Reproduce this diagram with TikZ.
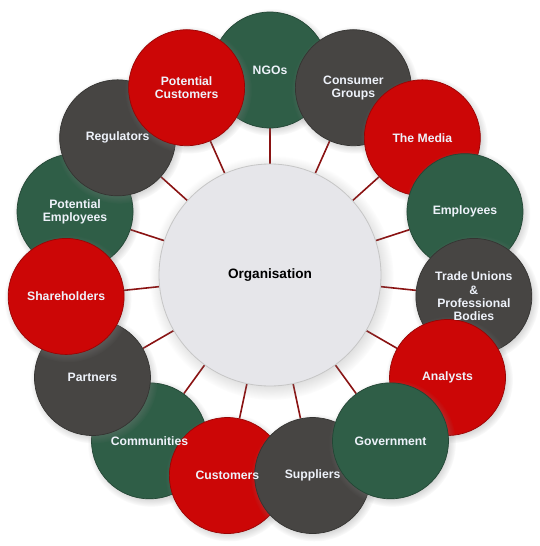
\documentclass[tikz,border=0pt]{standalone}
\usepackage{fontspec}
\setmainfont{Liberation Sans}
\usetikzlibrary{shadows}
\pgfdeclarelayer{bg}
\pgfsetlayers{bg,main}

\definecolor{stkred}{HTML}{CC0606}
\definecolor{stkgreen}{HTML}{2F5E47}
\definecolor{stkgrey}{HTML}{474543}
\definecolor{orgfill}{HTML}{E6E6EA}
\definecolor{spokecol}{HTML}{8A1212}
\definecolor{labelwhite}{HTML}{EEF2FA}

\tikzset{
  stake/.style={circle, minimum size=116pt, inner sep=0pt,
    fill=#1, draw=#1!75!black, line width=0.7pt,
    circular drop shadow={shadow xshift=1.5pt, shadow yshift=-2pt, opacity=0.35}},
  stakelabel/.style={align=center, inner sep=0pt,
    font=\bfseries\fontsize{12.2}{13.4}\selectfont, text=labelwhite},
  org/.style={circle, minimum size=222pt, inner sep=0pt,
    font=\bfseries\fontsize{13.6}{15}\selectfont, text=black,
    fill=orgfill, draw=gray!45, line width=0.8pt,
    circular drop shadow={shadow xshift=1.5pt, shadow yshift=-2.5pt, opacity=0.3}},
  spoke/.style={draw=spokecol, line width=1.6pt},
}

\begin{document}
\begin{tikzpicture}[x=1pt,y=-1pt]
\useasboundingbox (0,0) rectangle (540,546);
\begin{pgfonlayer}{bg}
  \fill[white] (0,0) rectangle (540,546);
\end{pgfonlayer}

% hub
\node[org] (org) at (270,275) {Organisation};

% stakeholder discs on a ring of radius 205pt, every 24 degrees
\node[stake=stkgreen] (ngo)   at ([shift={(90:205pt)}]org.center)   {};
\node[stake=stkgrey]  (cg)    at ([shift={(66:205pt)}]org.center)   {};
\node[stake=stkred]   (media) at ([shift={(42:205pt)}]org.center)   {};
\node[stake=stkgreen] (emp)   at ([shift={(18:205pt)}]org.center)   {};
\node[stake=stkgrey]  (tu)    at ([shift={(-6:205pt)}]org.center)   {};
\node[stake=stkred]   (ana)   at ([shift={(-30:205pt)}]org.center)  {};
\node[stake=stkgreen] (comm)  at ([shift={(-126:205pt)}]org.center) {};
\node[stake=stkred]   (cust)  at ([shift={(-102:205pt)}]org.center) {};
\node[stake=stkgrey]  (sup)   at ([shift={(-78:205pt)}]org.center)  {};
\node[stake=stkgreen] (gov)   at ([shift={(-54:205pt)}]org.center)  {};
\node[stake=stkgrey]  (part)  at ([shift={(-150:205pt)}]org.center) {};
\node[stake=stkgreen] (pemp)  at ([shift={(162:205pt)}]org.center)  {};
\node[stake=stkred]   (share) at ([shift={(-174:205pt)}]org.center) {};
\node[stake=stkgrey]  (reg)   at ([shift={(138:205pt)}]org.center)  {};
\node[stake=stkred]   (pcust) at ([shift={(114:205pt)}]org.center)  {};

% labels sit above every disc
\node[stakelabel] (ngo-t)   at (ngo)   {NGOs};
\node[stakelabel] (cg-t)    at (cg)    {Consumer\\Groups};
\node[stakelabel] (media-t) at (media) {The Media};
\node[stakelabel] (emp-t)   at (emp)   {Employees};
\node[stakelabel] (tu-t)    at (tu)    {Trade Unions\\\&\\Professional\\Bodies};
\node[stakelabel] (ana-t)   at (ana)   {Analysts};
\node[stakelabel] (gov-t)   at (gov)   {Government};
\node[stakelabel] (sup-t)   at (sup)   {Suppliers};
\node[stakelabel] (cust-t)  at (cust)  {Customers};
\node[stakelabel] (comm-t)  at (comm)  {Communities};
\node[stakelabel] (part-t)  at (part)  {Partners};
\node[stakelabel] (share-t) at (share) {Shareholders};
\node[stakelabel] (pemp-t)  at (pemp)  {Potential\\Employees};
\node[stakelabel] (reg-t)   at (reg)   {Regulators};
\node[stakelabel] (pcust-t) at (pcust) {Potential\\Customers};

% spokes from the hub to every stakeholder
\begin{pgfonlayer}{bg}
  \foreach \n in {ngo,cg,media,emp,tu,ana,gov,sup,cust,comm,part,share,pemp,reg,pcust}
    \draw[spoke] (org) -- (\n);
\end{pgfonlayer}
\end{tikzpicture}
\end{document}
